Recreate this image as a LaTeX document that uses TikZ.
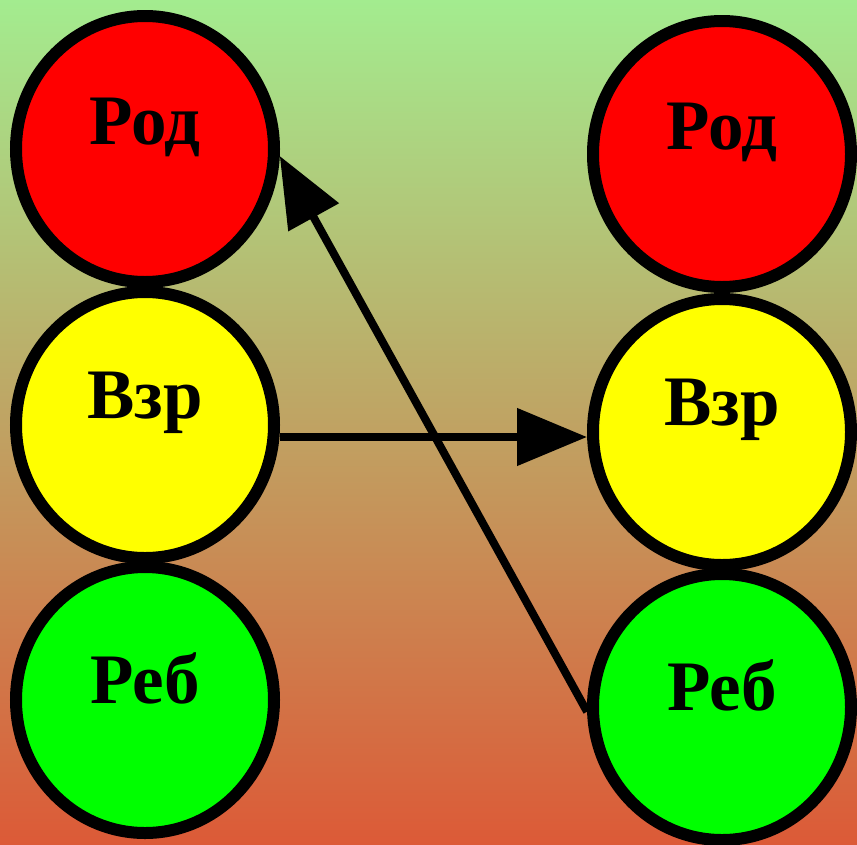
\documentclass[tikz,border=0pt]{standalone}
\usepackage{fontspec}
\setmainfont{Liberation Serif}
\usetikzlibrary{shapes.geometric,arrows.meta}
\definecolor{bgtop}{RGB}{163,236,143}
\definecolor{bgbot}{RGB}{220,90,55}
\definecolor{fred}{RGB}{255,0,0}
\definecolor{fyellow}{RGB}{255,255,0}
\definecolor{fgreen}{RGB}{0,255,0}
\tikzset{
  ball/.style={ellipse, draw=black, line width=12pt, minimum width=258pt, minimum height=266pt, inner sep=0pt},
  lab/.style={yshift=22pt, font=\fontsize{71}{84}\selectfont\bfseries, text=black},
  arr/.style={line width=8pt, -{Triangle[length=70pt,width=56pt]}}
}
\begin{document}
\begin{tikzpicture}[x=1pt,y=-1pt]
\useasboundingbox (0,0) rectangle (857,844);
\shade[top color=bgtop, bottom color=bgbot] (0,0) rectangle (857,844);
\node[ball, fill=fred, label={[lab]center:Род}] (lt) at (145,149) {};
\node[ball, fill=fyellow, label={[lab]center:Взр}] (lm) at (145,425) {};
\node[ball, fill=fgreen, label={[lab]center:Реб}] (lb) at (145,700) {};
\node[ball, fill=fred, label={[lab]center:Род}] (rt) at (722,154) {};
\node[ball, fill=fyellow, label={[lab]center:Взр}] (rm) at (722,432) {};
\node[ball, fill=fgreen, label={[lab]center:Реб}] (rb) at (722,707) {};
\draw[arr] ([yshift=-12pt]lm.east) -- ([yshift=-5pt]rm.west);
\draw[arr] (rb.182) -- (lt.-3);
\end{tikzpicture}
\end{document}
